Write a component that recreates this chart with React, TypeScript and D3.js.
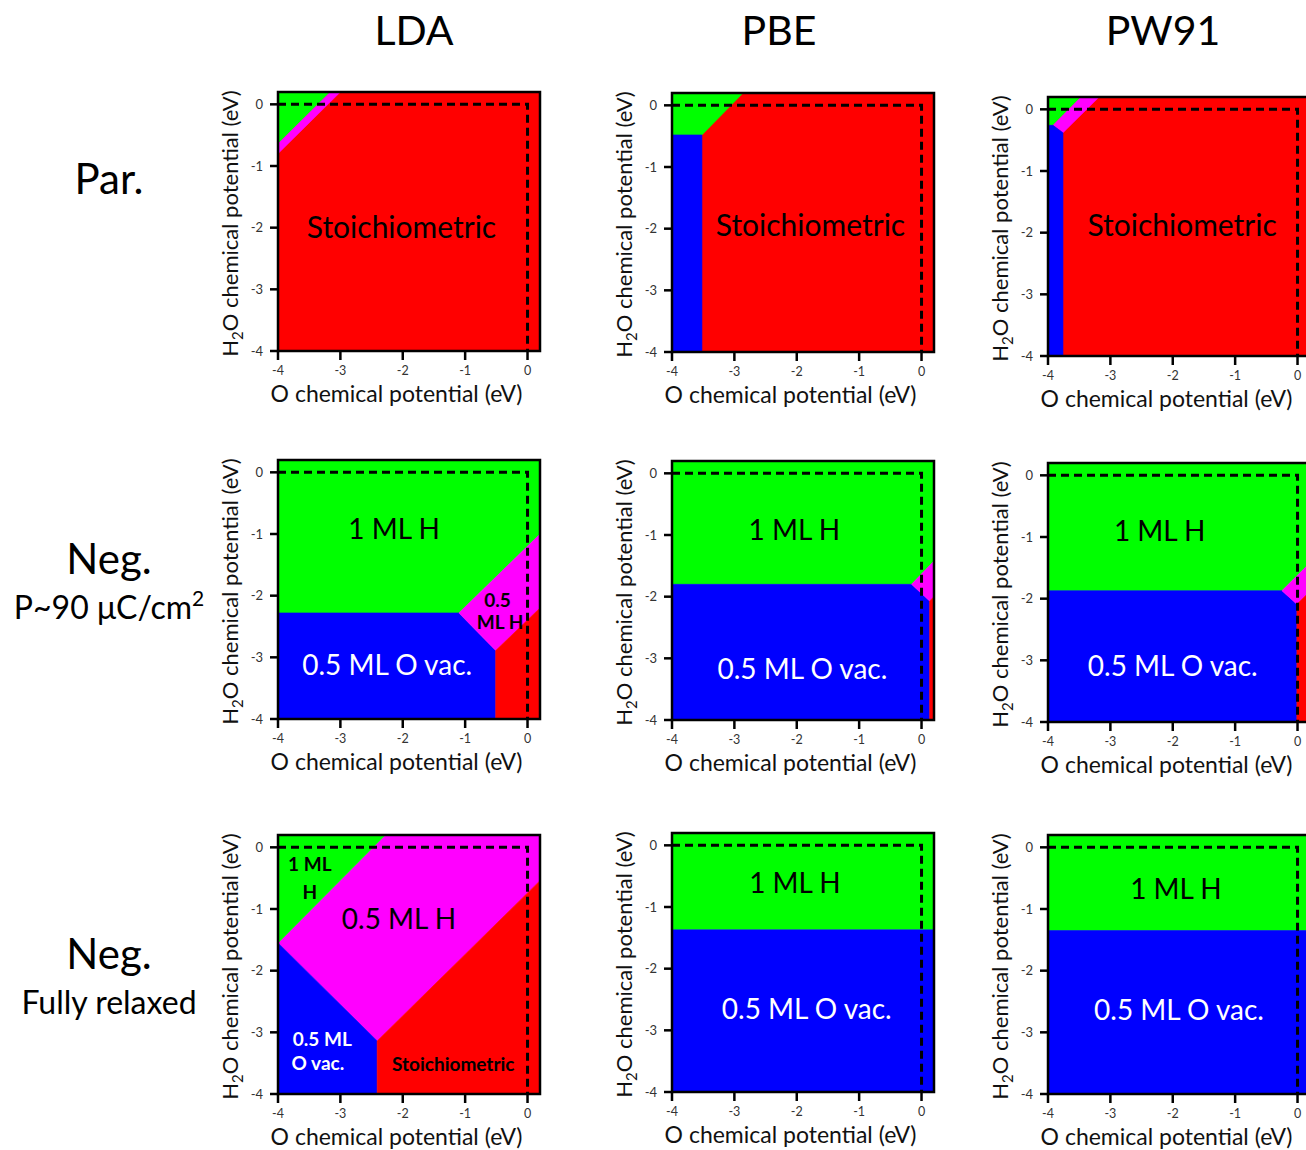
import React from "react";
import * as d3 from "d3";

// column / row headings
const methods = ["LDA", "PBE", "PW91"];
const rowTitles = ["Par.", "Neg.", "Neg."];
const rowSubtitles = ["", "P~90 μC/cm²", "Fully relaxed"];

const axisTicks = [-4, -3, -2, -1, 0];
const muDomain: [number, number] = [-4, 0.2];
// dashed stability limit (mu_O = 0, mu_H2O = 0)
const stabilityLimit: [number, number][] = [[-4, 0], [0, 0], [0, -4]];

const phaseColors: Record<string, string> = {
  H1: "#00ff00",
  H05: "#ff00ff",
  Ovac: "#0000ff",
  Stoich: "#ff0000",
};

// phase regions, vertices as [O mu, H2O mu] in eV
const ldaPar = [
  { phase: "Stoich", pts: [[-4, 0.2], [0.2, 0.2], [0.2, -4], [-4, -4]] },
  { phase: "H1", pts: [[-4, 0.2], [-3.16, 0.2], [-4, -0.64]] },
  { phase: "H05", pts: [[-3.16, 0.2], [-3.0, 0.2], [-4, -0.8], [-4, -0.64]] },
];
const pbePar = [
  { phase: "Stoich", pts: [[-4, 0.2], [0.2, 0.2], [0.2, -4], [-4, -4]] },
  { phase: "H1", pts: [[-4, 0.2], [-2.86, 0.2], [-3.52, -0.48], [-4, -0.48]] },
  { phase: "Ovac", pts: [[-4, -0.48], [-3.52, -0.48], [-3.52, -4], [-4, -4]] },
];
const pw91Par = [
  { phase: "Stoich", pts: [[-4, 0.2], [0.2, 0.2], [0.2, -4], [-4, -4]] },
  { phase: "H1", pts: [[-4, 0.2], [-3.47, 0.2], [-3.92, -0.26], [-4, -0.26]] },
  { phase: "H05", pts: [[-3.47, 0.2], [-3.18, 0.2], [-3.76, -0.38], [-3.92, -0.26]] },
  { phase: "Ovac", pts: [[-4, -0.26], [-3.92, -0.26], [-3.76, -0.38], [-3.76, -4], [-4, -4]] },
];
const ldaNeg = [
  { phase: "H1", pts: [[-4, 0.2], [0.2, 0.2], [0.2, -1.0], [-1.1, -2.28], [-4, -2.28]] },
  { phase: "Ovac", pts: [[-4, -2.28], [-1.1, -2.28], [-0.51, -2.89], [-0.51, -4], [-4, -4]] },
  { phase: "H05", pts: [[-1.1, -2.28], [0.2, -1.0], [0.2, -2.2], [-0.51, -2.89]] },
  { phase: "Stoich", pts: [[-0.51, -2.89], [0.2, -2.2], [0.2, -4], [-0.51, -4]] },
];
const pbeNeg = [
  { phase: "H1", pts: [[-4, 0.2], [0.2, 0.2], [0.2, -1.42], [-0.16, -1.8], [-4, -1.8]] },
  { phase: "Ovac", pts: [[-4, -1.8], [-0.16, -1.8], [0.13, -2.07], [0.13, -4], [-4, -4]] },
  { phase: "H05", pts: [[-0.16, -1.8], [0.2, -1.42], [0.2, -2.0], [0.13, -2.07]] },
  { phase: "Stoich", pts: [[0.13, -2.07], [0.2, -2.0], [0.2, -4], [0.13, -4]] },
];
const pw91Neg = [
  { phase: "H1", pts: [[-4, 0.2], [0.2, 0.2], [0.2, -1.42], [-0.25, -1.87], [-4, -1.87]] },
  { phase: "Ovac", pts: [[-4, -1.87], [-0.25, -1.87], [-0.01, -2.09], [-0.01, -4], [-4, -4]] },
  { phase: "H05", pts: [[-0.25, -1.87], [0.2, -1.42], [0.2, -1.88], [-0.01, -2.09]] },
  { phase: "Stoich", pts: [[-0.01, -2.09], [0.2, -1.88], [0.2, -4], [-0.01, -4]] },
];
const ldaRelaxed = [
  { phase: "H05", pts: [[-2.28, 0.2], [0.2, 0.2], [0.2, -0.54], [-2.41, -3.14], [-4, -1.55]] },
  { phase: "H1", pts: [[-4, 0.2], [-2.28, 0.2], [-4, -1.55]] },
  { phase: "Ovac", pts: [[-4, -1.55], [-2.41, -3.14], [-2.41, -4], [-4, -4]] },
  { phase: "Stoich", pts: [[-2.41, -3.14], [0.2, -0.54], [0.2, -4], [-2.41, -4]] },
];
const pbeRelaxed = [
  { phase: "H1", pts: [[-4, 0.2], [0.2, 0.2], [0.2, -1.37], [-4, -1.37]] },
  { phase: "Ovac", pts: [[-4, -1.37], [0.2, -1.37], [0.2, -4], [-4, -4]] },
];
const pw91Relaxed = [
  { phase: "H1", pts: [[-4, 0.2], [0.2, 0.2], [0.2, -1.35], [-4, -1.35]] },
  { phase: "Ovac", pts: [[-4, -1.35], [0.2, -1.35], [0.2, -4], [-4, -4]] },
];

// region labels, anchored at [O mu, H2O mu]
const ldaParLabels = [{ text: "Stoichiometric", x: -2.02, y: -2.17, phase: "Stoich", bold: false }];
const pbeParLabels = [{ text: "Stoichiometric", x: -1.78, y: -2.12, phase: "Stoich", bold: false }];
const pw91ParLabels = [{ text: "Stoichiometric", x: -1.85, y: -2.06, phase: "Stoich", bold: false }];
const ldaNegLabels = [
  { text: "1 ML H", x: -2.14, y: -1.08, phase: "H1", bold: false },
  { text: "0.5 ML O vac.", x: -2.25, y: -3.28, phase: "Ovac", bold: false },
  { text: "0.5", x: -0.48, y: -2.19, phase: "H05", bold: true },
  { text: "ML H", x: -0.44, y: -2.54, phase: "H05", bold: true },
];
const pbeNegLabels = [
  { text: "1 ML H", x: -2.04, y: -1.08, phase: "H1", bold: false },
  { text: "0.5 ML O vac.", x: -1.91, y: -3.34, phase: "Ovac", bold: false },
];
const pw91NegLabels = [
  { text: "1 ML H", x: -2.21, y: -1.06, phase: "H1", bold: false },
  { text: "0.5 ML O vac.", x: -2.0, y: -3.26, phase: "Ovac", bold: false },
];
const ldaRelaxedLabels = [
  { text: "1 ML", x: -3.49, y: -0.38, phase: "H1", bold: true },
  { text: "H", x: -3.49, y: -0.84, phase: "H1", bold: true },
  { text: "0.5 ML H", x: -2.06, y: -1.33, phase: "H05", bold: false },
  { text: "0.5 ML", x: -3.29, y: -3.22, phase: "Ovac", bold: true },
  { text: "O vac.", x: -3.36, y: -3.61, phase: "Ovac", bold: true },
  { text: "Stoichiometric", x: -1.19, y: -3.62, phase: "Stoich", bold: true },
];
const pbeRelaxedLabels = [
  { text: "1 ML H", x: -2.03, y: -0.78, phase: "H1", bold: false },
  { text: "0.5 ML O vac.", x: -1.84, y: -2.82, phase: "Ovac", bold: false },
];
const pw91RelaxedLabels = [
  { text: "1 ML H", x: -1.95, y: -0.83, phase: "H1", bold: false },
  { text: "0.5 ML O vac.", x: -1.9, y: -2.8, phase: "Ovac", bold: false },
];

const panels = [
  { row: 0, col: 0, regions: ldaPar, labels: ldaParLabels },
  { row: 0, col: 1, regions: pbePar, labels: pbeParLabels },
  { row: 0, col: 2, regions: pw91Par, labels: pw91ParLabels },
  { row: 1, col: 0, regions: ldaNeg, labels: ldaNegLabels },
  { row: 1, col: 1, regions: pbeNeg, labels: pbeNegLabels },
  { row: 1, col: 2, regions: pw91Neg, labels: pw91NegLabels },
  { row: 2, col: 0, regions: ldaRelaxed, labels: ldaRelaxedLabels },
  { row: 2, col: 1, regions: pbeRelaxed, labels: pbeRelaxedLabels },
  { row: 2, col: 2, regions: pw91Relaxed, labels: pw91RelaxedLabels },
];

// layout
const W = 1306;
const H = 1150;
const FONT = "Lato, 'Open Sans', sans-serif";
const colLeft = [278, 672, 1048];
const colCenter = [414, 779, 1163];
const panelTop = [
  [92, 93, 97],
  [460, 461, 463],
  [835, 833, 835],
];
const plotW = 262;
const plotH = 259;
const rowTitleY = [194, 574, 969];
const rowSubY = [0, 619, 1014];

const labelSize = (text: string, bold: boolean) =>
  bold ? 19 : text === "Stoichiometric" ? 30 : 28;

const Panel = ({ p }: { p: (typeof panels)[number] }) => {
  const left = colLeft[p.col];
  const top = panelTop[p.row][p.col];
  const x = d3.scaleLinear().domain(muDomain).range([left, left + plotW]);
  const y = d3.scaleLinear().domain(muDomain).range([top + plotH, top]);
  const poly = d3
    .line<number[]>()
    .x((d) => x(d[0]))
    .y((d) => y(d[1]));
  const clipId = `clip-${p.row}-${p.col}`;
  const bottom = y(-4);
  return (
    <g>
      <defs>
        <clipPath id={clipId}>
          <rect x={left} y={top} width={plotW} height={plotH} />
        </clipPath>
      </defs>
      <g clipPath={`url(#${clipId})`}>
        {p.regions.map((r, i) => (
          <path key={i} d={poly(r.pts)! + "Z"} fill={phaseColors[r.phase]} stroke={phaseColors[r.phase]} strokeWidth={0.6} />
        ))}
        {p.labels.map((l, i) => (
          <text
            key={i}
            x={x(l.x)}
            y={y(l.y)}
            textAnchor="middle"
            fontFamily={FONT}
            fontSize={labelSize(l.text, l.bold)}
            fontWeight={l.bold ? 700 : 400}
            fill={l.phase === "Ovac" ? "#ffffff" : "#000000"}
          >
            {l.text}
          </text>
        ))}
      </g>
      <path
        d={poly(stabilityLimit)!}
        fill="none"
        stroke="#000"
        strokeWidth={3}
        strokeDasharray="8,5"
      />
      <rect x={left} y={top} width={plotW} height={plotH} fill="none" stroke="#000" strokeWidth={2.5} />
      {/* x axis */}
      {axisTicks.map((t) => (
        <g key={"x" + t}>
          <line x1={x(t)} x2={x(t)} y1={bottom} y2={bottom + 9} stroke="#000" strokeWidth={2.5} />
          <text x={x(t)} y={bottom + 24} textAnchor="middle" fontFamily={FONT} fontSize={12.5} fill="#333">
            {t}
          </text>
        </g>
      ))}
      {/* y axis */}
      {axisTicks.map((t) => (
        <g key={"y" + t}>
          <line x1={left - 8} x2={left} y1={y(t)} y2={y(t)} stroke="#000" strokeWidth={2.5} />
          <text x={left - 15} y={y(t)} dy="0.35em" textAnchor="end" fontFamily={FONT} fontSize={13} fill="#333">
            {t}
          </text>
        </g>
      ))}
      <text x={x(-2.1)} y={bottom + 51} textAnchor="middle" fontFamily={FONT} fontSize={23} fill="#111">
        O chemical potential (eV)
      </text>
      <text
        transform={`translate(${left - 40},${(top + bottom) / 2 + 2}) rotate(-90)`}
        textAnchor="middle"
        fontFamily={FONT}
        fontSize={22}
        fill="#111"
      >
        H<tspan fontSize={15} dy={5}>2</tspan>
        <tspan dy={-5}>O chemical potential (eV)</tspan>
      </text>
    </g>
  );
};

export default function App() {
  return (
    <svg
      width={W}
      height={H}
      viewBox={`0 0 ${W} ${H}`}
      style={{ position: "absolute", left: 0, top: 0, background: "#fff" }}
    >
      <rect width={W} height={H} fill="#fff" />
      {methods.map((m, i) => (
        <text key={m} x={colCenter[i]} y={45} textAnchor="middle" fontFamily={FONT} fontSize={41} fill="#000">
          {m}
        </text>
      ))}
      {rowTitles.map((t, i) => (
        <g key={i}>
          <text x={109} y={rowTitleY[i]} textAnchor="middle" fontFamily={FONT} fontSize={42} fill="#000">
            {t}
          </text>
          {rowSubtitles[i] && (
            <text x={109} y={rowSubY[i]} textAnchor="middle" fontFamily={FONT} fontSize={32} fill="#000">
              {rowSubtitles[i].replace("²", "")}
              {rowSubtitles[i].includes("²") && (
                <tspan fontSize={21} dy={-13}>
                  2
                </tspan>
              )}
            </text>
          )}
        </g>
      ))}
      {panels.map((p) => (
        <Panel key={`${p.row}-${p.col}`} p={p} />
      ))}
    </svg>
  );
}
